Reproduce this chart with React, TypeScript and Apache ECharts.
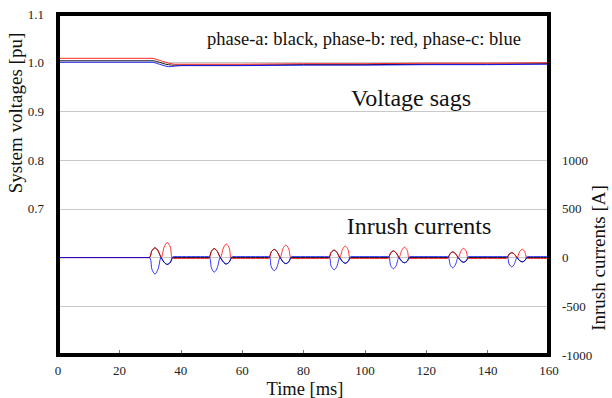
import React, { useEffect, useRef } from "react";
import * as echarts from "echarts";

// ---- Voltage data (pu) ----
const voltTime = [0, 31, 32, 33, 34, 35, 36, 37, 38, 40, 60, 80, 100, 120, 140, 160];
const voltA = [1.004, 1.004, 1.003, 1.001, 0.999, 0.997, 0.996, 0.995, 0.995, 0.995, 0.995, 0.996, 0.996, 0.997, 0.997, 0.998];
const voltB = [1.009, 1.009, 1.007, 1.005, 1.003, 1.001, 0.999, 0.998, 0.997, 0.997, 0.997, 0.998, 0.998, 0.999, 0.999, 1.0];
const voltC = [1.001, 1.001, 0.999, 0.997, 0.995, 0.993, 0.992, 0.992, 0.993, 0.994, 0.994, 0.995, 0.995, 0.996, 0.996, 0.997];

// ---- Inrush current data (A) ----
const pulseTimes = [
  [29.6, 30.6, 31.6, 32.6, 33.6, 34.6, 35.6, 36.6, 37.6],
  [49.0, 50.0, 50.9, 51.9, 52.9, 53.9, 54.8, 55.8, 56.8],
  [68.6, 69.5, 70.5, 71.4, 72.4, 73.3, 74.2, 75.2, 76.2],
  [88.1, 89.0, 90.0, 90.9, 91.8, 92.7, 93.6, 94.5, 95.5],
  [107.5, 108.4, 109.3, 110.2, 111.1, 112.0, 112.9, 113.8, 114.7],
  [126.9, 127.8, 128.6, 129.5, 130.4, 131.3, 132.1, 133.0, 133.9],
  [146.2, 147.0, 147.9, 148.7, 149.6, 150.4, 151.3, 152.1, 153.0],
];
const currA = [
  [0, 70, 100, 70, 0, -49, -70, -49, 0],
  [0, 64, 92, 64, 0, -46, -66, -46, 0],
  [0, 59, 84, 59, 0, -43, -62, -43, 0],
  [0, 53, 76, 53, 0, -41, -58, -41, 0],
  [0, 48, 68, 48, 0, -37, -53, -37, 0],
  [0, 41, 58, 41, 0, -34, -48, -34, 0],
  [0, 35, 50, 35, 0, -31, -44, -31, 0],
];
const currB = [
  [0, 70, 100, 70, 0, 108, 155, 108, -10],
  [-10, 64, 92, 64, 0, 98, 140, 98, -10],
  [-10, 59, 84, 59, 0, 90, 128, 90, -10],
  [-10, 53, 76, 53, 0, 83, 118, 83, -10],
  [-10, 48, 68, 48, 0, 74, 106, 74, -10],
  [-10, 41, 58, 41, 0, 66, 95, 66, -10],
  [-10, 35, 50, 35, 0, 60, 86, 60, -10],
];
const currC = [
  [0, -119, -170, -119, 0, -49, -70, -49, 10],
  [10, -105, -150, -105, 0, -46, -66, -46, 10],
  [10, -95, -135, -95, 0, -43, -62, -43, 10],
  [10, -88, -125, -88, 0, -41, -58, -41, 10],
  [10, -81, -115, -81, 0, -37, -53, -37, 10],
  [10, -74, -105, -74, 0, -34, -48, -34, 10],
  [10, -67, -95, -67, 0, -31, -44, -31, 10],
];
const currStart = { a: 0, b: 0, c: 0 };
const currEnd = { a: 0, b: -10, c: 10 };

const xTicks = { min: 0, max: 160, interval: 20 };

const FONT = "Liberation Serif";

function voltSeries(vals: number[]) {
  return voltTime.map((t, i) => [t, vals[i]]);
}
function currSeries(vals: number[][], start: number, end: number) {
  const out: number[][] = [[0, start]];
  pulseTimes.forEach((ts, p) => ts.forEach((t, i) => out.push([t, vals[p][i]])));
  out.push([160, end]);
  return out;
}

export default function App() {
  const ref = useRef<HTMLDivElement>(null);
  useEffect(() => {
    if (!ref.current) return;
    const chart = echarts.init(ref.current, null, { renderer: "svg" });
    const lineBase = (color: string, width: number, opacity: number) => ({
      type: "line",
      showSymbol: false,
      symbol: "none",
      lineStyle: { color, width, opacity },
      itemStyle: { color },
      z: 3,
    });
    const txt = (text: string, x: number, y: number, size: number, rot = 0) => ({
      type: "text",
      x,
      y,
      rotation: rot,
      style: {
        text,
        fontFamily: FONT,
        fontSize: size,
        fill: "#111",
        textAlign: "center",
        textVerticalAlign: "middle",
        verticalAlign: "middle",
      },
    });
    chart.setOption({
      animation: false,
      backgroundColor: "#fff",
      textStyle: { fontFamily: FONT },
      grid: {
        left: 58,
        right: 63,
        top: 14,
        bottom: 43,
        show: true,
        borderColor: "#000",
        borderWidth: 4,
        backgroundColor: "transparent",
        z: 5,
      },
      xAxis: {
        type: "value",
        min: xTicks.min,
        max: xTicks.max,
        interval: xTicks.interval,
        axisLine: { show: false, onZero: false },
        axisTick: { show: true, inside: true, length: 5, lineStyle: { color: "#777" } },
        splitLine: { show: false },
        axisLabel: { fontFamily: FONT, fontSize: 13, color: "#222", margin: 9 },
      },
      yAxis: [
        {
          type: "value",
          min: 0.4,
          max: 1.1,
          interval: 0.1,
          axisLine: { show: false, onZero: false },
          axisTick: { show: false },
          splitLine: { show: true, lineStyle: { color: "#c8c8c8", width: 1 } },
          axisLabel: {
            fontFamily: FONT,
            fontSize: 13,
            color: "#222",
            margin: 14,
            formatter: (v: number) => (v >= 0.65 ? v.toFixed(1) : ""),
          },
        },
        {
          type: "value",
          min: -1000,
          max: 2500,
          interval: 500,
          axisLine: { show: false, onZero: false },
          axisTick: { show: false },
          splitLine: { show: false },
          axisLabel: {
            fontFamily: FONT,
            fontSize: 13,
            color: "#222",
            margin: 13,
            formatter: (v: number) => (v <= 1000 ? String(Math.round(v)) : ""),
          },
        },
      ],
      series: [
        { ...lineBase("#000000", 1, 0.9), name: "Va", yAxisIndex: 0, data: voltSeries(voltA) },
        { ...lineBase("#ff0000", 1, 0.85), name: "Vb", yAxisIndex: 0, data: voltSeries(voltB) },
        { ...lineBase("#0000ff", 1, 0.85), name: "Vc", yAxisIndex: 0, data: voltSeries(voltC) },
        { ...lineBase("#000000", 1, 0.9), name: "Ia", yAxisIndex: 1, smooth: 0.3, data: currSeries(currA, currStart.a, currEnd.a) },
        { ...lineBase("#ff0000", 1, 0.8), name: "Ib", yAxisIndex: 1, smooth: 0.3, data: currSeries(currB, currStart.b, currEnd.b) },
        { ...lineBase("#0000ff", 1, 0.8), name: "Ic", yAxisIndex: 1, smooth: 0.3, data: currSeries(currC, currStart.c, currEnd.c) },
      ],
      graphic: [
        txt("phase-a: black, phase-b: red, phase-c: blue", 364, 39, 18.5),
        txt("Voltage sags", 411, 98, 24),
        txt("Inrush currents", 419, 226, 24),
        txt("System voltages [pu]", 15, 113, 19, Math.PI / 2),
        txt("Inrush currents [A]", 598, 258, 19, Math.PI / 2),
        txt("Time [ms]", 305, 389, 18.5),
      ],
    });
    return () => chart.dispose();
  }, []);
  return <div ref={ref} style={{ width: 612, height: 398, position: "absolute", left: 0, top: 0 }} />;
}
